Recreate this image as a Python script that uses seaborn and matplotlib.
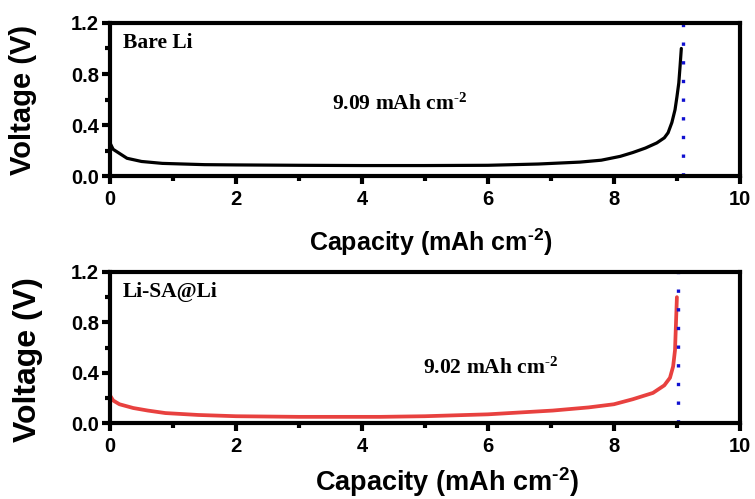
import matplotlib
matplotlib.use("Agg")
import matplotlib.pyplot as plt
from matplotlib.ticker import MultipleLocator, FormatStrFormatter
import seaborn as sns
import pandas as pd

# discharge curves
bare_cap = [0.0, 0.05, 0.27, 0.5, 0.83, 1.5, 2.0, 3.0, 4.0, 5.0, 6.0, 6.8, 7.46, 7.8, 8.1, 8.3,
            8.5, 8.68, 8.8, 8.86, 8.92, 8.97, 9.0, 9.03, 9.05, 9.07]
bare_volt = [0.26, 0.21, 0.14, 0.115, 0.10, 0.09, 0.088, 0.085, 0.083, 0.083, 0.085, 0.095, 0.11,
             0.125, 0.155, 0.185, 0.22, 0.26, 0.30, 0.34, 0.42, 0.52, 0.62, 0.73, 0.86, 1.0]
sa_cap = [0.0, 0.05, 0.15, 0.37, 0.6, 0.88, 1.4, 2.0, 3.0, 4.29, 5.0, 6.0, 7.03, 7.6, 8.0, 8.3,
          8.62, 8.8, 8.89, 8.94, 8.97, 8.98, 8.99, 9.0]
sa_volt = [0.22, 0.18, 0.15, 0.12, 0.10, 0.08, 0.065, 0.055, 0.05, 0.05, 0.055, 0.07, 0.10, 0.125,
           0.15, 0.19, 0.24, 0.30, 0.36, 0.45, 0.58, 0.72, 0.86, 1.0]
cap_line = [9.09, 9.02]
labels = ["Bare Li", "Li-SA@Li"]
cap_text = ["9.09 mAh cm$^{\u20102}$", "9.02 mAh cm$^{\u20102}$"]
x_title = "Capacity (mAh cm$^{\u20102}$)"
colors = ["black", "#e8413f"]

sns.set_style("ticks")
plt.rcParams["font.family"] = ["Liberation Sans", "DejaVu Sans"]
plt.rcParams["mathtext.default"] = "regular"
for k in ["text.color", "axes.labelcolor", "xtick.color", "ytick.color", "axes.edgecolor"]:
    plt.rcParams[k] = "black"

fig = plt.figure(figsize=(7.55, 4.99), dpi=100)
ax1 = fig.add_axes([0.1457, 0.647, 0.8343, 0.307])
ax2 = fig.add_axes([0.1457, 0.152, 0.8343, 0.303])

data = [pd.DataFrame({"cap": bare_cap, "volt": bare_volt}),
        pd.DataFrame({"cap": sa_cap, "volt": sa_volt})]
# the two panels in the source figure are not scaled alike
xl_size = [18, 19.5]
xl_pos = [(0.51, -0.43), (0.535, -0.39)]
yl_size = [21, 23]
yl_pos = [(-0.138, 0.5), (-0.13, 0.42)]

for i, ax in enumerate([ax1, ax2]):
    sns.lineplot(data=data[i], x="cap", y="volt", ax=ax, color=colors[i],
                 lw=2.3 if i == 0 else 2.7, sort=False, estimator=None)
    ax.axvline(cap_line[i], color="#1010d0", ls=(0, (1, 4.6)), lw=2.4)
    ax.set_xlim(0, 10)
    ax.set_ylim(0, 1.2)
    ax.xaxis.set_major_locator(MultipleLocator(2))
    ax.xaxis.set_minor_locator(MultipleLocator(1))
    ax.yaxis.set_major_locator(MultipleLocator(0.4))
    ax.yaxis.set_minor_locator(MultipleLocator(0.2))
    ax.yaxis.set_major_formatter(FormatStrFormatter("%.1f"))
    ax.tick_params(which="major", direction="out", length=6, width=3, labelsize=14.5, pad=2)
    ax.tick_params(axis="x", which="major", pad=4)
    ax.tick_params(which="minor", direction="out", length=3.5, width=3)
    for t in ax.get_xticklabels() + ax.get_yticklabels():
        t.set_fontweight("bold")
    for s in ax.spines.values():
        s.set_visible(True)
        s.set_linewidth(3)
    ax.set_ylabel("Voltage (V)", fontsize=yl_size[i], fontweight="bold", va="center")
    ax.yaxis.set_label_coords(*yl_pos[i])
    ax.set_xlabel(x_title, fontsize=xl_size[i], fontweight="bold", va="center")
    ax.xaxis.set_label_coords(*xl_pos[i])
    ax.text(0.02, 0.87, labels[i], transform=ax.transAxes, family=["Liberation Serif"],
            fontsize=15.5, fontweight="bold", va="center")

ax1.text(4.6, 0.56, cap_text[0], family=["Liberation Serif"], fontsize=15.5, fontweight="bold",
         ha="center", va="center")
ax2.text(6.05, 0.44, cap_text[1], family=["Liberation Serif"], fontsize=15.5, fontweight="bold",
         ha="center", va="center")

fig.savefig("out.png", dpi=100)
